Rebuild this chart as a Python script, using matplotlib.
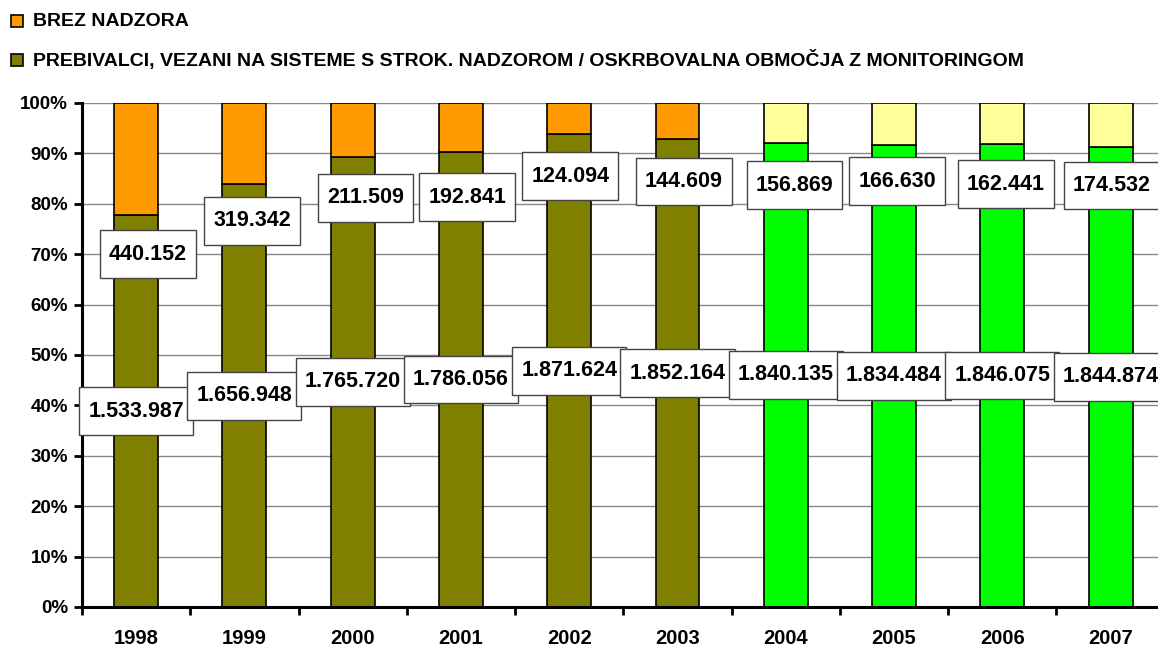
import matplotlib.pyplot as plt
import numpy as np
from matplotlib.patches import Rectangle
from matplotlib.path import Path

plt.rcParams['font.family'] = ['Liberation Sans', 'DejaVu Sans']
plt.rcParams['font.weight'] = 'bold'

# data
years = ['1998', '1999', '2000', '2001', '2002', '2003', '2004', '2005', '2006', '2007']
monitored = [1533987, 1656948, 1765720, 1786056, 1871624, 1852164, 1840135, 1834484, 1846075, 1844874]
unmonitored = [440152, 319342, 211509, 192841, 124094, 144609, 156869, 166630, 162441, 174532]
bottom_labels = ['1.533.987', '1.656.948', '1.765.720', '1.786.056', '1.871.624',
                 '1.852.164', '1.840.135', '1.834.484', '1.846.075', '1.844.874']
top_labels = ['440.152', '319.342', '211.509', '192.841', '124.094',
              '144.609', '156.869', '166.630', '162.441', '174.532']
# top labels were moved by hand in the original (percent height, x shift in categories)
top_label_pos = [70.0, 76.6, 81.2, 81.3, 85.5, 84.4, 83.7, 84.5, 83.9, 83.6]
top_label_dx = [0.11, 0.07, 0.12, 0.06, 0.01, 0.06, 0.08, 0.03, 0.03, 0.01]

bottom_colors = ['#808000'] * 6 + ['#00FF00'] * 4
top_colors = ['#FF9900'] * 6 + ['#FFFF99'] * 4

monitored = np.array(monitored, dtype=float)
unmonitored = np.array(unmonitored, dtype=float)
total = monitored + unmonitored
pct_bottom = monitored / total * 100
pct_top = unmonitored / total * 100


def tall_box(x0, y0, width, height, mutation_size):
    # Excel style label box: a bit more room above and below the text
    padx = 0.42 * mutation_size
    pady = 0.62 * mutation_size
    x0, y0 = x0 - padx, y0 - pady
    x1, y1 = x0 + width + 2 * padx, y0 + height + 2 * pady
    return Path([(x0, y0), (x1, y0), (x1, y1), (x0, y1), (x0, y0)],
                [Path.MOVETO, Path.LINETO, Path.LINETO, Path.LINETO, Path.CLOSEPOLY])


fig = plt.figure(figsize=(11.58, 6.51), dpi=100)
ax = fig.add_axes([0.0708, 0.0676, 0.935, 0.7742])

x = np.arange(len(years))
w = 0.406
ax.bar(x, pct_bottom, w, color=bottom_colors, edgecolor='black', linewidth=1.2, zorder=2)
ax.bar(x, pct_top, w, bottom=pct_bottom, color=top_colors, edgecolor='black', linewidth=1.2, zorder=2)

for i in range(len(years)):
    ax.text(x[i], pct_bottom[i] / 2, bottom_labels[i], ha='center', va='center',
            fontsize=15.5, fontweight='bold', zorder=3, clip_on=False,
            bbox=dict(boxstyle=tall_box, facecolor='white', edgecolor='#444444', linewidth=1))
for i in range(len(years)):
    ax.text(x[i] + top_label_dx[i], top_label_pos[i], top_labels[i], ha='center', va='center',
            fontsize=15.5, fontweight='bold', zorder=3,
            bbox=dict(boxstyle=tall_box, facecolor='white', edgecolor='#444444', linewidth=1))

ax.set_xlim(-0.5, len(years) - 0.5)
ax.set_ylim(0, 100)
ax.set_yticks(np.arange(0, 101, 10))
ax.set_yticklabels([f'{v}%' for v in range(0, 101, 10)], fontsize=13.5, fontweight='bold')
ax.yaxis.grid(True, color='#888888', linewidth=1, zorder=0)
ax.set_axisbelow(True)

ax.set_xticks(x)
ax.set_xticklabels(years, fontsize=14.5, fontweight='bold')
ax.tick_params(axis='x', length=0, pad=16)
ax.set_xticks(np.arange(-0.5, len(years), 1), minor=True)
ax.tick_params(axis='x', which='minor', length=6, width=2, direction='out')
ax.tick_params(axis='y', length=6, width=2, direction='out', pad=4)

for s in ['top', 'right']:
    ax.spines[s].set_visible(False)
ax.spines['left'].set_linewidth(2.2)
ax.spines['bottom'].set_linewidth(2.2)

# legend drawn by hand
legend_items = [('BREZ NADZORA', '#FF9900', 21),
                ('PREBIVALCI, VEZANI NA SISTEME S STROK. NADZOROM / OSKRBOVALNA OBMOČJA Z MONITORINGOM', '#808000', 60)]
for label, col, ypix in legend_items:
    yf = 1 - ypix / 651
    fig.patches.append(Rectangle((11 / 1158, yf - 6 / 651), 12 / 1158, 12 / 651,
                                 transform=fig.transFigure, facecolor=col,
                                 edgecolor='black', linewidth=1.2))
    fig.text(33 / 1158, yf, label, ha='left', va='center', fontsize=14, fontweight='bold')

fig.savefig('out.png', dpi=100)
